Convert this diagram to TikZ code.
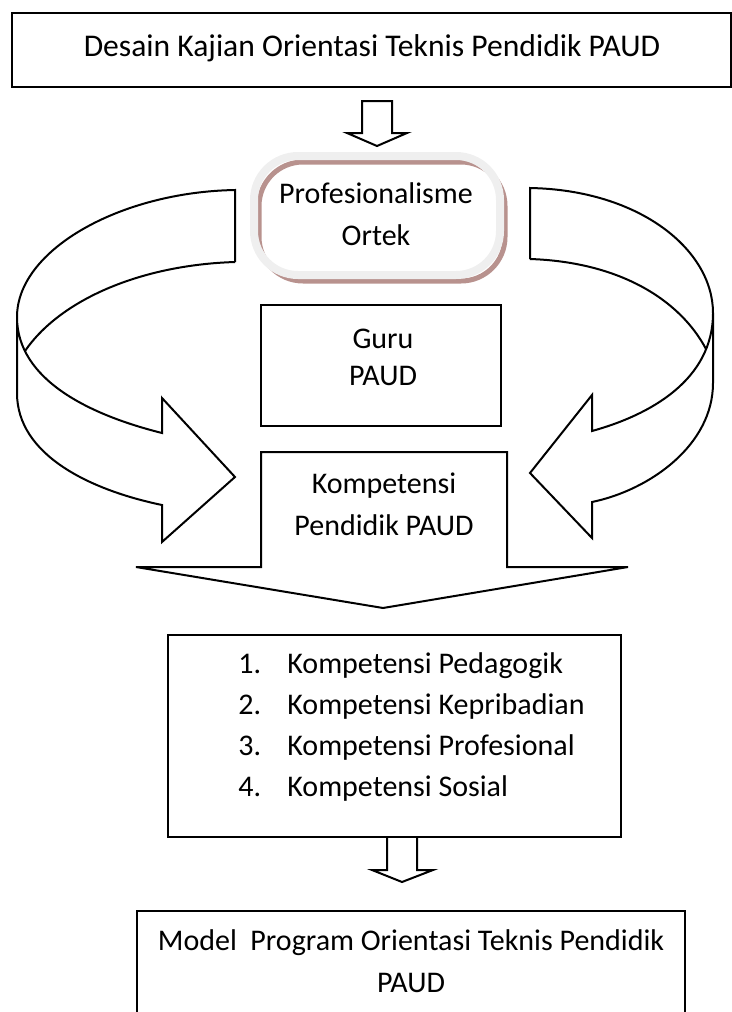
\documentclass[tikz,border=0pt]{standalone}
\usepackage{fontspec}
\setmainfont{Carlito}
\definecolor{ortekrose}{RGB}{184,146,142}
\definecolor{ortekglow}{RGB}{239,239,239}
\tikzset{
  kotak/.style={draw=black, line width=1pt},
  panah/.style={draw=black, line width=1pt, line join=miter},
  tulisan/.style={font=\fontsize{15}{21}\selectfont, align=center, inner sep=0pt},
}
\begin{document}
\begin{tikzpicture}[x=0.5pt, y=-0.5pt]
        %% one unit is one pixel of the page, y runs downwards
        \clip (0,0) rectangle (732,1012);
        %% the boxes
        \draw[kotak] (12,13) rectangle (731,87);
        \draw[kotak] (261,305) rectangle (501,426);
        \draw[kotak] (168,635) rectangle (621,837);
        \draw[kotak] (137,911) rectangle (685,1030);
        %% rounded box with the rose rim and the light glow over it
        \draw[ortekrose, line width=2.5pt, rounded corners=22] (259,162) rectangle (505,281);
        \draw[ortekglow, line width=4pt, rounded corners=22] (254,156) rectangle (500,275);
        %% hollow arrows between the boxes
        \draw[panah] (362,101) -- (392,101) -- (392,133) -- (407,133) -- (377,146) -- (347,133) -- (362,133) -- cycle;
        \draw[panah] (387,837) -- (387,870) -- (372,870) -- (402,882) -- (433,870) -- (417,870) -- (417,837);
        %% left curved arrow
        \draw[panah] (235,262) -- (235,190) .. controls (120,192) and (17,250) .. (17,317) -- (17,393)
            .. controls (17,455) and (90,490) .. (162,505) -- (162,542) -- (235,477) -- (162,398) -- (162,433)
            .. controls (90,415) and (17,380) .. (17,317);
        \draw[panah] (235,262) .. controls (140,265) and (60,300) .. (25,351);
        %% right curved arrow
        \draw[panah] (530,259) -- (530,188) .. controls (640,190) and (713,250) .. (713,313) -- (713,383)
            .. controls (713,445) and (650,490) .. (592,502) -- (592,538) -- (530,473) -- (592,395) -- (592,431)
            .. controls (650,415) and (713,380) .. (713,313);
        \draw[panah] (530,259) .. controls (620,262) and (680,300) .. (706,349);
        %% box that ends in a wide arrow
        \draw[panah] (261,567) -- (261,452) -- (507,452) -- (507,567) -- (628,567) -- (383,608) -- (136,567) -- cycle;
        %% the texts
        \node[tulisan, font=\fontsize{15.8}{21}\selectfont] (desain) at (372,48) {Desain Kajian Orientasi Teknis Pendidik PAUD};
        \node[tulisan] (ortek) at (376,214) {Profesionalisme\\Ortek};
        \node[tulisan, font=\fontsize{15}{18.5}\selectfont] (guru) at (383,357) {Guru\\PAUD};
        \node[tulisan] (kompetensi) at (384,504) {Kompetensi\\Pendidik PAUD};
        \foreach \n/\isi in {1/Pedagogik, 2/Kepribadian, 3/Profesional, 4/Sosial} {
            \node[tulisan, anchor=base west] (no\n) at (238,{632+41*\n}) {\n.};
            \node[tulisan, anchor=base west] (komp\n) at (287,{632+41*\n}) {Kompetensi \isi};
        }
        \node[tulisan] (model) at (411,961) {Model~~Program Orientasi Teknis Pendidik\\PAUD};
    \end{tikzpicture}
\end{document}
